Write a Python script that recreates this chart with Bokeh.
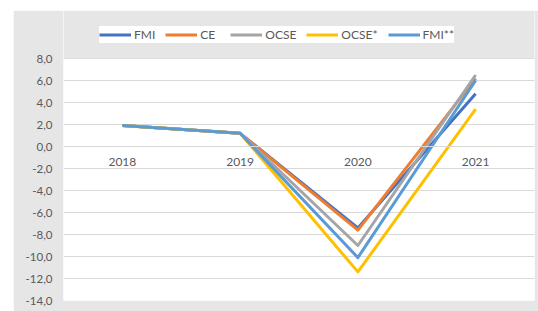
from bokeh.plotting import figure
from bokeh.models import (FactorRange, Range1d, Legend, LegendItem, CustomJSTickFormatter,
                          FixedTicker, Spacer, BoxAnnotation)
from bokeh.layouts import row, column
from bokeh.embed import file_html
from bokeh.resources import INLINE

years = ["2018", "2019", "2020", "2021"]
fmi = [1.9, 1.2, -7.4, 4.8]
ce = [1.9, 1.2, -7.6, 6.2]
ocse = [1.9, 1.2, -9.0, 6.5]
ocse_star = [1.9, 1.2, -11.4, 3.4]
fmi_2star = [1.9, 1.2, -10.1, 6.0]
y_ticks = [-14, -12, -10, -8, -6, -4, -2, 0, 2, 4, 6, 8]

series = [
    ("FMI", fmi, "#4472C4"),
    ("CE", ce, "#ED7D31"),
    ("OCSE", ocse, "#A5A5A5"),
    ("OCSE*", ocse_star, "#FFC000"),
    ("FMI**", fmi_2star, "#5B9BD5"),
]

FONT = "Lato"
TXT = "#595959"
BG = "#e7e6e6"

y_min, y_max = y_ticks[0], y_ticks[-1]
px_per_unit = 242 / (y_max - y_min)
top_extra = 48 / px_per_unit  # room above the plot area for the legend

p = figure(width=525, height=301, x_range=FactorRange(factors=years, range_padding=0),
           y_range=Range1d(y_min, y_max + top_extra), output_backend="svg", toolbar_location=None,
           min_border_left=50, min_border_right=4, min_border_top=0, min_border_bottom=11)
p.border_fill_color = BG
p.background_fill_color = "white"
p.outline_line_color = None

p.add_layout(BoxAnnotation(bottom=y_max, fill_color=BG, fill_alpha=1, line_color=None, level="underlay"))

p.ygrid.grid_line_color = "#d9d9d9"
p.ygrid.grid_line_width = 1
p.xgrid.grid_line_color = None

p.yaxis.ticker = FixedTicker(ticks=y_ticks)
p.yaxis.formatter = CustomJSTickFormatter(code="return tick.toFixed(1).replace('.', ',');")
p.yaxis.axis_line_color = None
p.yaxis.major_tick_line_color = None
p.yaxis.minor_tick_line_color = None
p.yaxis.major_label_standoff = 5
p.yaxis.major_label_text_font = FONT
p.yaxis.major_label_text_font_size = "11.5px"
p.yaxis.major_label_text_color = TXT

p.xaxis.fixed_location = 0
p.xaxis.axis_line_color = "#d9d9d9"
p.xaxis.major_tick_line_color = None
p.xaxis.minor_tick_line_color = None
p.xaxis.major_label_standoff = 5
p.xaxis.major_label_text_font = FONT
p.xaxis.major_label_text_font_size = "12px"
p.xaxis.major_label_text_color = TXT

items = []
for name, vals, color in series:
    r = p.line(years, vals, line_color=color, line_width=3, line_join="round")
    items.append(LegendItem(label=name, renderers=[r]))

legend = Legend(items=items, orientation="horizontal", location=(36, 257),
                border_line_color=None, background_fill_color="white", background_fill_alpha=1,
                label_text_font=FONT, label_text_font_size="12px", label_text_color=TXT,
                glyph_width=32, glyph_height=17, label_height=17, label_standoff=3,
                spacing=10, padding=8, margin=0)
p.add_layout(legend, "center")

layout = row(Spacer(width=13), column(Spacer(height=10), p))
open("out.html", "w").write(file_html(layout, INLINE))
